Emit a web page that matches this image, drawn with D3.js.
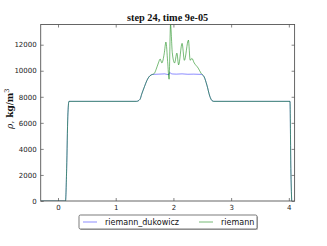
<!DOCTYPE html>
<html>
<head>
<meta charset="utf-8">
<script src="https://d3js.org/d3.v7.min.js"></script>
<style>
  body { margin: 0; background: #fff; }
  .tick text { font-family: "DejaVu Sans", sans-serif; font-size: 7px; fill: #222; }
</style>
</head>
<body>
<svg width="327" height="246"></svg>
<script>
// riemann_dukowicz (blue)
var xDukowicz = [-0.3, 0.13, 0.15, 0.17, 0.19, 1.36, 1.42, 1.45, 1.50, 1.54, 1.59, 1.64, 1.75, 1.85, 1.92, 1.935, 1.96, 1.99, 2.05, 2.15, 2.25, 2.35, 2.48, 2.53, 2.58, 2.63, 2.67, 2.70, 4.02, 4.035, 4.05];
var rhoDukowicz = [0, 0, 2500, 6500, 7650, 7650, 7800, 8200, 8800, 9250, 9600, 9720, 9740, 9760, 9690, 9860, 9780, 9750, 9740, 9760, 9730, 9740, 9720, 9550, 8900, 8050, 7700, 7650, 7650, 2500, 0];

// riemann (green)
var xRiemann = [-0.3, 0.13, 0.15, 0.17, 0.19, 1.36, 1.42, 1.45, 1.50, 1.54, 1.59, 1.64, 1.67, 1.70, 1.74, 1.77, 1.80, 1.84, 1.87, 1.90, 1.925, 1.95, 1.98, 2.02, 2.06, 2.09, 2.15, 2.19, 2.26, 2.29, 2.32, 2.36, 2.43, 2.48, 2.53, 2.58, 2.63, 2.67, 2.70, 4.02, 4.035, 4.05];
var rhoRiemann = [0, 0, 2500, 6500, 7650, 7650, 7800, 8200, 8800, 9250, 9600, 9720, 9800, 10100, 10600, 10900, 10600, 11300, 12200, 10700, 9350, 13550, 11400, 10600, 11350, 10450, 12100, 10800, 12350, 10800, 10950, 10600, 10200, 9800, 9550, 8900, 8050, 7700, 7650, 7650, 2500, 0];

var xTicks = [0, 1, 2, 3, 4];
var yTicks = [0, 2000, 4000, 6000, 8000, 10000, 12000];
var seriesNames = ["riemann_dukowicz", "riemann"];
var seriesColors = ["#0000ff", "#008000"];
var seriesOpacity = [0.5, 0.6];

var svg = d3.select("svg");
var m = {left: 40.7, right: 294.6, top: 24.5, bottom: 201};

var x = d3.scaleLinear().domain([-0.3, 4.1]).range([m.left, m.right]);
var y = d3.scaleLinear().domain([0, d3.max(rhoRiemann)]).range([m.bottom, m.top]);

var line = d3.line()
    .x(function(d) { return x(d[0]); })
    .y(function(d) { return y(d[1]); })
    .curve(d3.curveMonotoneX);

svg.append("clipPath").attr("id", "plotclip")
  .append("rect").attr("x", m.left).attr("y", m.top - 1)
  .attr("width", m.right - m.left).attr("height", m.bottom - m.top + 1);

var plot = svg.append("g").attr("clip-path", "url(#plotclip)");

[[xDukowicz, rhoDukowicz], [xRiemann, rhoRiemann]].forEach(function(s, i) {
  plot.append("path")
      .datum(d3.zip(s[0], s[1]))
      .attr("fill", "none")
      .attr("stroke", seriesColors[i])
      .attr("stroke-opacity", seriesOpacity[i])
      .attr("stroke-width", 0.9)
      .attr("d", line);
});

// axes, matplotlib style: ticks inside on all sides
function styleAxis(g) {
  g.select(".domain").remove();
  g.selectAll(".tick line").attr("stroke", "#333").attr("stroke-width", 0.6);
}

svg.append("g")
    .attr("transform", "translate(0," + m.bottom + ")")
    .call(d3.axisBottom(x).tickValues(xTicks).tickSize(-3).tickPadding(4).tickFormat(d3.format("d")))
    .call(styleAxis);
svg.append("g")
    .attr("transform", "translate(0," + m.top + ")")
    .call(d3.axisTop(x).tickValues(xTicks).tickSize(-3).tickFormat(""))
    .call(styleAxis);
svg.append("g")
    .attr("transform", "translate(" + m.left + ",0)")
    .call(d3.axisLeft(y).tickValues(yTicks).tickSize(-3).tickPadding(4).tickFormat(d3.format("d")))
    .call(styleAxis);
svg.append("g")
    .attr("transform", "translate(" + m.right + ",0)")
    .call(d3.axisRight(y).tickValues(yTicks).tickSize(-3).tickFormat(""))
    .call(styleAxis);

svg.selectAll("g .tick text").attr("font-family", null).attr("font-size", null);

svg.append("rect")
    .attr("x", m.left).attr("y", m.top)
    .attr("width", m.right - m.left).attr("height", m.bottom - m.top)
    .attr("fill", "none").attr("stroke", "#555").attr("stroke-width", 0.9);

// title
svg.append("text")
    .attr("x", (m.left + m.right) / 2).attr("y", 21)
    .attr("text-anchor", "middle")
    .attr("font-family", "Liberation Serif, serif")
    .attr("font-weight", "bold")
    .attr("font-size", 10.3)
    .attr("fill", "#111")
    .text("step 24, time 9e-05");

// y label
var yl = svg.append("text")
    .attr("transform", "translate(13," + ((m.top + m.bottom) / 2 - 4) + ") rotate(-90)")
    .attr("text-anchor", "middle")
    .attr("font-family", "DejaVu Serif, serif")
    .attr("font-size", 9)
    .attr("fill", "#111");
yl.append("tspan").attr("font-style", "italic").text("ρ");
yl.append("tspan").text(", ");
yl.append("tspan").attr("font-weight", "bold").text("kg");
yl.append("tspan").text("/");
yl.append("tspan").attr("font-weight", "bold").text("m");
yl.append("tspan").attr("font-size", 6.5).attr("dy", -4).text("3");

// legend
var lg = svg.append("g");
lg.append("rect").attr("x", 80).attr("y", 216).attr("width", 178).attr("height", 14)
    .attr("rx", 1.5).attr("fill", "#888").attr("opacity", 0.6);
lg.append("rect").attr("x", 79).attr("y", 215).attr("width", 178).attr("height", 14)
    .attr("rx", 1.5).attr("fill", "#fff").attr("stroke", "#444").attr("stroke-width", 0.7);

var legX = [83, 199];
seriesNames.forEach(function(name, i) {
  lg.append("line")
      .attr("x1", legX[i]).attr("x2", legX[i] + 14)
      .attr("y1", 222).attr("y2", 222)
      .attr("stroke", seriesColors[i]).attr("stroke-opacity", seriesOpacity[i]).attr("stroke-width", 0.9);
  lg.append("text")
      .attr("x", legX[i] + 22).attr("y", 225)
      .attr("font-family", "DejaVu Sans, sans-serif")
      .attr("font-size", 8)
      .attr("fill", "#111")
      .text(name);
});
</script>
</body>
</html>
